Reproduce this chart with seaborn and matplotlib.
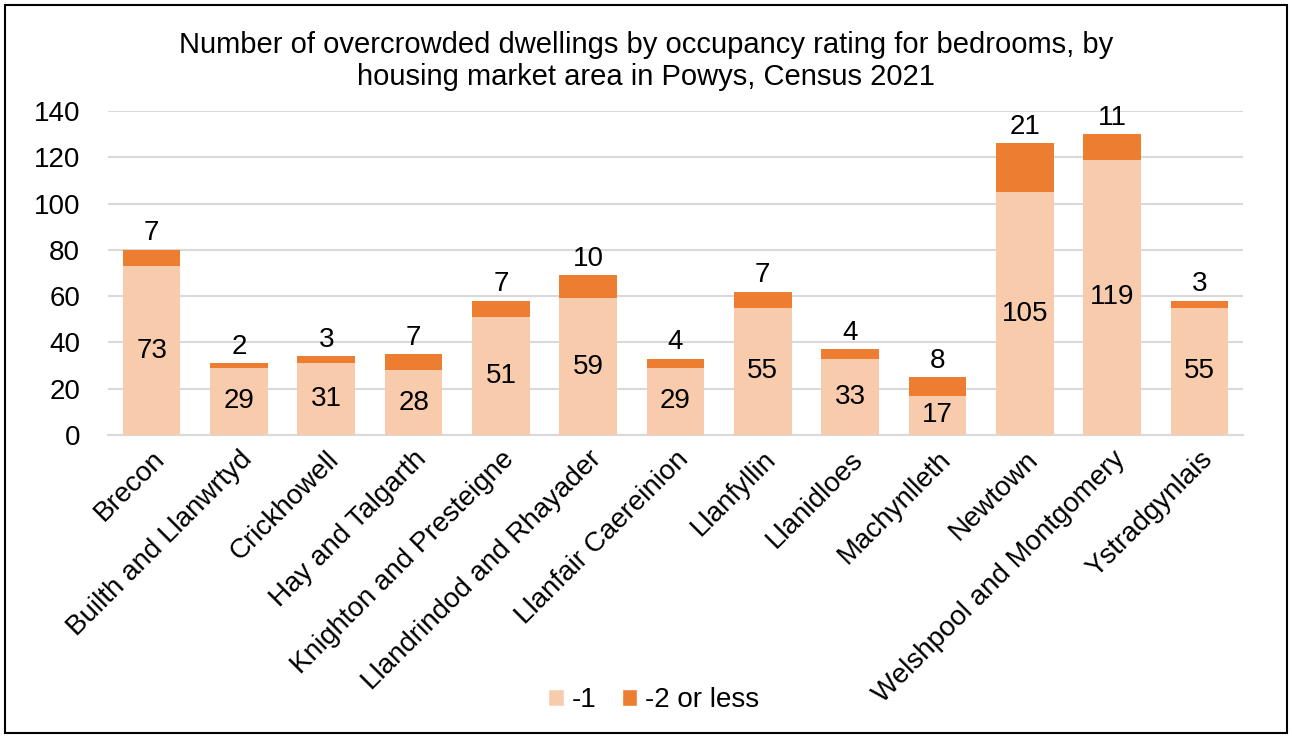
import matplotlib
matplotlib.use("Agg")
import matplotlib.pyplot as plt
import seaborn as sns
import pandas as pd
from matplotlib.patches import Rectangle, Patch

areas = ["Brecon", "Builth and Llanwrtyd", "Crickhowell", "Hay and Talgarth",
         "Knighton and Presteigne", "Llandrindod and Rhayader", "Llanfair Caereinion",
         "Llanfyllin", "Llanidloes", "Machynlleth", "Newtown",
         "Welshpool and Montgomery", "Ystradgynlais"]
minus1 = [73, 29, 31, 28, 51, 59, 29, 55, 33, 17, 105, 119, 55]
minus2 = [7, 2, 3, 7, 7, 10, 4, 7, 4, 8, 21, 11, 3]
series_names = ["-1", "-2 or less"]
yticks = [0, 20, 40, 60, 80, 100, 120, 140]
title = "Number of overcrowded dwellings by occupancy rating for bedrooms, by\nhousing market area in Powys, Census 2021"

c_light = "#F8CBAD"
c_dark = "#ED7D31"

sns.set_style("white")
plt.rcParams["font.family"] = ["Liberation Sans", "DejaVu Sans"]
plt.rcParams["text.color"] = "black"
plt.rcParams["xtick.color"] = "black"
plt.rcParams["ytick.color"] = "black"

df = pd.DataFrame({"area": areas, "m1": minus1, "m2": minus2})
df["total"] = df["m1"] + df["m2"]

fig = plt.figure(figsize=(12.92, 7.38), dpi=100)
ax = fig.add_axes([108/1292, 1-435/738, (1243-108)/1292, (435-111)/738])

sns.barplot(data=df, x="area", y="total", color=c_dark, saturation=1, width=0.66,
            ax=ax, zorder=3, linewidth=0, edgecolor="none")
sns.barplot(data=df, x="area", y="m1", color=c_light, saturation=1, width=0.66,
            ax=ax, zorder=3, linewidth=0, edgecolor="none")

for i, (a, b) in enumerate(zip(minus1, minus2)):
    ax.text(i, a / 2, str(a), ha="center", va="center", fontsize=20, zorder=5, color="black")
    ax.text(i, a + b + 1.5, str(b), ha="center", va="bottom", fontsize=20, zorder=5, color="black")

ax.set_ylim(0, 140)
ax.set_xlim(-0.5, len(areas) - 0.5)
ax.set_yticks(yticks)
ax.set_yticklabels([str(v) for v in yticks], fontsize=20)
ax.yaxis.grid(True, color="#D9D9D9", linewidth=1.5, zorder=0)
ax.set_axisbelow(True)
ax.set_xlabel("")
ax.set_ylabel("")
ax.tick_params(axis="both", length=0, colors="black")
ax.tick_params(axis="y", pad=20)
ax.set_xticks(range(len(areas)))
ax.set_xticklabels(areas, rotation=45, ha="right", rotation_mode="anchor", fontsize=20)
ax.tick_params(axis="x", pad=8)
for s in ["top", "right", "left"]:
    ax.spines[s].set_visible(False)
ax.spines["bottom"].set_color("#D9D9D9")
ax.spines["bottom"].set_linewidth(1.5)

fig.text(0.5, 1-61/738, title, ha="center", va="center", fontsize=21, linespacing=1.2, color="black")

handles = [Patch(facecolor=c_light), Patch(facecolor=c_dark)]
fig.legend(handles, series_names, loc="center", bbox_to_anchor=(0.5 + 8/1292, 1-700/738), ncol=2,
           frameon=False, fontsize=20, handlelength=0.55, handleheight=0.55,
           handletextpad=0.3, columnspacing=0.9)

fig.patches.append(Rectangle((5/1292, 5/738), 1282/1292, 728/738, transform=fig.transFigure,
                             fill=False, edgecolor="black", linewidth=1.5))

fig.savefig("out.png", dpi=100)
